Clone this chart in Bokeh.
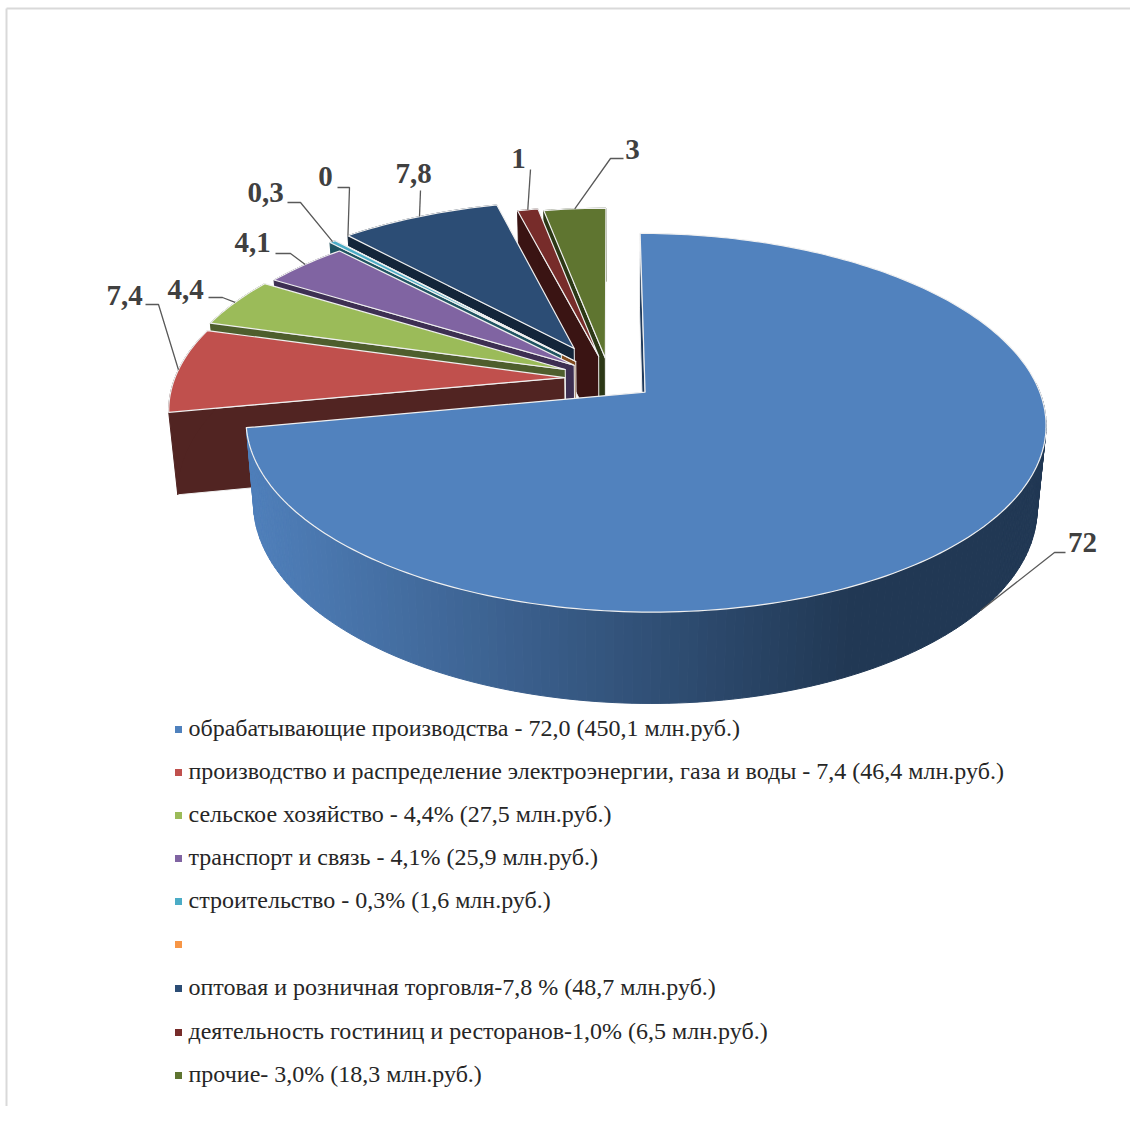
import math
from bokeh.plotting import figure
from bokeh.models import Range1d, ColumnDataSource
from bokeh.core.properties import value
from bokeh.embed import file_html
from bokeh.resources import INLINE

# ---- data
shares = [72, 7.4, 4.4, 4.1, 0.3, 0, 7.8, 1, 3]
labels = ["72", "7,4", "4,4", "4,1", "0,3", "0", "7,8", "1", "3"]
legend_texts = [
    "обрабатывающие производства - 72,0 (450,1 млн.руб.)",
    "производство и распределение электроэнергии, газа и воды - 7,4 (46,4 млн.руб.)",
    "сельское хозяйство - 4,4% (27,5 млн.руб.)",
    "транспорт и связь - 4,1% (25,9 млн.руб.)",
    "строительство - 0,3% (1,6 млн.руб.)",
    "",
    "оптовая и розничная торговля-7,8 % (48,7 млн.руб.)",
    "деятельность гостиниц и ресторанов-1,0% (6,5 млн.руб.)",
    "прочие- 3,0% (18,3 млн.руб.)",
]
top_colors = ["#5182be", "#c0504d", "#9bbb59", "#8064a2", "#4bacc6", "#f79646", "#2c4d75", "#772c2a", "#5f7530"]
wall_colors = ["#1f3a5c", "#512422", "#4e5e2d", "#3d2f52", "#1f5361", "#7f4a1e", "#13253a", "#3a1413", "#2c3816"]
explode = [0.117, 0.115, 0.125, 0.118, 0.185, 0.13, 0.195, 0.13, 0.115]

# label layout: text centre, start of leader, elbow of leader
label_pos = [(1082, 542), (124, 295), (185, 289), (252, 242), (265, 192), (325, 176), (413, 173), (518, 158), (632, 149)]
leader_start = [(1065, 552), (145, 304), (208, 297), (275, 253), (287, 202), (337, 187), (420, 190), (530, 169), (623, 158)]
leader_elbow = [(1054, 552), (158, 304), (222, 297), (290, 253), (300, 202), (349, 187), (420, 190), (530, 169), (610, 158)]
legend_y = [729, 772, 815, 858, 901, 944, 988, 1032, 1075]

# ---- camera of the 3-D pie
CX, CY, A, B, K = 609.0, 378.0, 390.0, 180.0, 0.16
CY2, A2, B2 = 459.0, 382.0, 188.0


def top(u, v):
    d = 1 + K * v
    return CX + A * u / d, CY - B * v / d


def bottom(u, v):
    d = 1 + K * v
    return CX + A2 * u / d, CY2 - B2 * v / d


def grad(x):
    t = min(1.0, max(0.0, (x - 250) / 600.0))
    c0, c1 = (79, 127, 186), (33, 56, 84)
    return "#%02x%02x%02x" % tuple(round(a + (b - a) * t) for a, b in zip(c0, c1))


total = sum(shares)
edges = [0.0]
for s in shares:
    edges.append(edges[-1] + s / total * 2 * math.pi)

slices = []
for i, s in enumerate(shares):
    a0, a1 = edges[i], edges[i + 1]
    mid = (a0 + a1) / 2
    ou, ov = explode[i] * math.sin(mid), explode[i] * math.cos(mid)
    n = max(2, int((a1 - a0) / 0.02))
    arc = [(ou + math.sin(a0 + (a1 - a0) * k / n), ov + math.cos(a0 + (a1 - a0) * k / n)) for k in range(n + 1)]
    slices.append(dict(apex=(ou, ov), arc=arc, mid=mid))

xs, ys, fills, lines, widths = [], [], [], [], []


def add(pts, fill, line, width):
    xs.append([p[0] for p in pts])
    ys.append([p[1] for p in pts])
    fills.append(fill)
    lines.append(line)
    widths.append(width)


EDGE = "#f0f0f0"
for i in [8, 7, 6, 5, 4, 3, 2, 1, 0]:
    sl = slices[i]
    ap, arc = sl["apex"], sl["arc"]
    wc = wall_colors[i]
    # cut wall on the leading side
    add([top(*arc[0]), top(*ap), bottom(*ap), bottom(*arc[0])], wc, EDGE, 1)
    # rim
    if i == 0:
        for p, q in zip(arc[:-1], arc[1:]):
            if top(*p)[1] < 380:
                continue
            quad = [top(*p), top(*q), bottom(*q), bottom(*p)]
            c = grad((quad[0][0] + quad[1][0]) / 2)
            add(quad, c, c, 1)
    else:
        add([top(*p) for p in arc] + [bottom(*p) for p in reversed(arc)], wc, wc, 1)
    # top face
    add([top(*ap)] + [top(*p) for p in arc], top_colors[i], EDGE, 1.2)

p = figure(width=1130, height=1106, output_backend="svg", toolbar_location=None,
           x_range=Range1d(0, 1130), y_range=Range1d(1106, 0), min_border=0)
p.axis.visible = False
p.grid.visible = False
p.outline_line_color = None
p.background_fill_color = "white"
p.border_fill_color = "white"

# faint page frame
p.line([6, 6], [1106, 8], line_color="#d9d9d9", line_width=2)
p.line([6, 1130], [8, 8], line_color="#d9d9d9", line_width=2)

p.patches("xs", "ys", source=ColumnDataSource(dict(xs=xs, ys=ys, f=fills, l=lines, w=widths)),
          fill_color="f", line_color="l", line_width="w", line_join="round")

# leaders
for i, sl in enumerate(slices):
    m, ap = sl["mid"], sl["apex"]
    pt = (ap[0] + math.sin(m), ap[1] + math.cos(m))
    if shares[i] == 0:           # the zero slice points at the corner of the next slice
        pt = slices[i + 1]["arc"][0]
    end = bottom(*pt) if i == 0 else top(*pt)
    s0, e0 = leader_start[i], leader_elbow[i]
    p.line([s0[0], e0[0], end[0]], [s0[1], e0[1], end[1]], line_color="#595959", line_width=1.3)

p.text([q[0] for q in label_pos], [q[1] for q in label_pos], text=labels,
       text_font=value("Liberation Serif"), text_font_style="bold", text_font_size="29px",
       text_color="#404040", text_align="center", text_baseline="middle")

# legend
p.scatter([178] * len(legend_y), legend_y, marker="square", size=7,
          fill_color=[c if c != "#5182be" else "#4f81bd" for c in top_colors], line_color=None)
p.text([188] * len(legend_y), [y - 1.5 for y in legend_y], text=legend_texts,
       text_font=value("Liberation Serif"), text_font_size="24px",
       text_color="#262626", text_align="left", text_baseline="middle")

open("out.html", "w").write(file_html(p, INLINE))
